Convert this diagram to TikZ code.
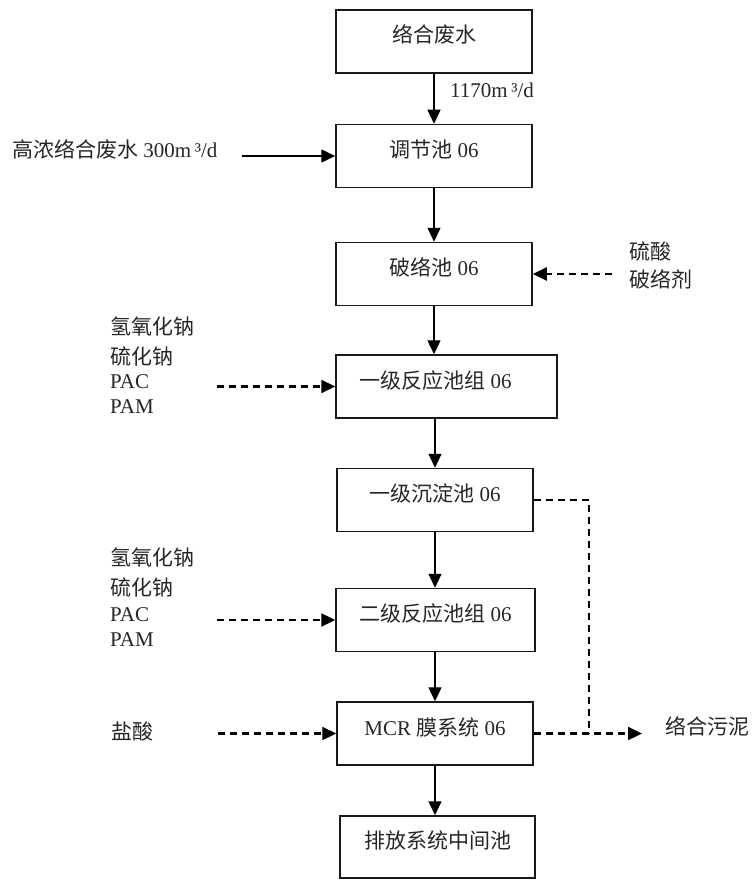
\documentclass[tikz,border=0pt]{standalone}
\usepackage{fontspec}
\setmainfont{Liberation Serif}
\newfontfamily\cjk{Noto Sans CJK SC}
\usetikzlibrary{arrows.meta}
\begin{document}
\begin{tikzpicture}[x=1pt,y=-1pt,
  font=\fontsize{21}{25}\selectfont,
  every node/.style={text=black!85},
  box/.style={draw=black!90, line width=1.5pt, rectangle, inner sep=0pt,
    minimum width=196pt, minimum height=63pt, text height=10pt, text depth=7pt},
  arr/.style={line width=1.4pt, -{Triangle[length=14pt,width=13pt]}},
  darr/.style={line width=2.2pt, dash pattern=on 7pt off 5pt, -{Triangle[length=14pt,width=13pt]}},
  dln/.style={line width=2.2pt, dash pattern=on 7pt off 5pt},
  lbl/.style={anchor=base west, inner sep=0pt},
]
\useasboundingbox (0,0) rectangle (755,880);

% main boxes
\node[box] (b1) at (434,41.5) {\cjk 络合废水};
\node[box] (b2) at (434,156) {{\cjk 调节池} 06};
\node[box] (b3) at (434,274) {{\cjk 破络池} 06};
\node[box, minimum width=221pt] (b4) at (446.5,386.5) {\hspace*{-22pt}{\cjk 一级反应池组} 06};
\node[box] (b5) at (435,500) {{\cjk 一级沉淀池} 06};
\node[box, minimum width=199pt] (b6) at (435.5,620) {{\cjk 二级反应池组} 06};
\node[box] (b7) at (435,733.5) {MCR {\cjk 膜系统} 06};
\node[box, minimum width=195pt, minimum height=62pt] (b8) at (437.5,847) {\cjk 排放系统中间池};

% main flow
\draw[arr] (b1) -- (b2);
\draw[arr] (b2) -- (b3);
\draw[arr] (b3.south) -- (b3.south |- b4.north);
\draw[arr] (b5.north |- b4.south) -- (b5.north);
\draw[arr] (b5.south) -- (b5.south |- b6.north);
\draw[arr] (b7.north |- b6.south) -- (b7.north);
\draw[arr] (b7.south) -- (b7.south |- b8.north);

% flow label
\node[lbl] (q) at (450,98) {1170m\,³/d};

% high-concentration inflow
\node[lbl] (hc) at (12,157.6) {{\cjk 高浓络合废水} 300m\,³/d};
\coordinate (hcs) at (242,156);
\draw[arr] (hcs) -- (b2.west);

% acid / breaker
\node[lbl] (s1) at (629,259.6) {\cjk 硫酸};
\node[lbl] (s2) at (629,287.6) {\cjk 破络剂};
\coordinate (ss) at (612,274);
\draw[darr] (ss) -- (b3.east);

% dosing group 1
\node[lbl] (g1a) at (110,334.6) {\cjk 氢氧化钠};
\node[lbl] (g1b) at (110,364.6) {\cjk 硫化钠};
\node[lbl] (g1c) at (110,388.6) {PAC};
\node[lbl] (g1d) at (110,413.6) {PAM};
\coordinate (g1s) at (217,386.5);
\draw[darr] (g1s) -- (b4.west);

% dosing group 2
\node[lbl] (g2a) at (110,565.6) {\cjk 氢氧化钠};
\node[lbl] (g2b) at (110,595.6) {\cjk 硫化钠};
\node[lbl] (g2c) at (110,621.6) {PAC};
\node[lbl] (g2d) at (110,646.6) {PAM};
\coordinate (g2s) at (217,620);
\draw[darr] (g2s) -- (b6.west);

% hydrochloric acid
\node[lbl] (hcl) at (111,739.6) {\cjk 盐酸};
\coordinate (hcls) at (218,733.5);
\draw[darr] (hcls) -- (b7.west);

% sludge
\coordinate (j) at (589,733.5);
\coordinate (so) at (642,733.5);
\draw[dln] (b5.east) -| (j);
\draw[darr] (b7.east) -- (so);
\node[lbl] (sl) at (665,734.6) {\cjk 络合污泥};
\end{tikzpicture}
\end{document}
